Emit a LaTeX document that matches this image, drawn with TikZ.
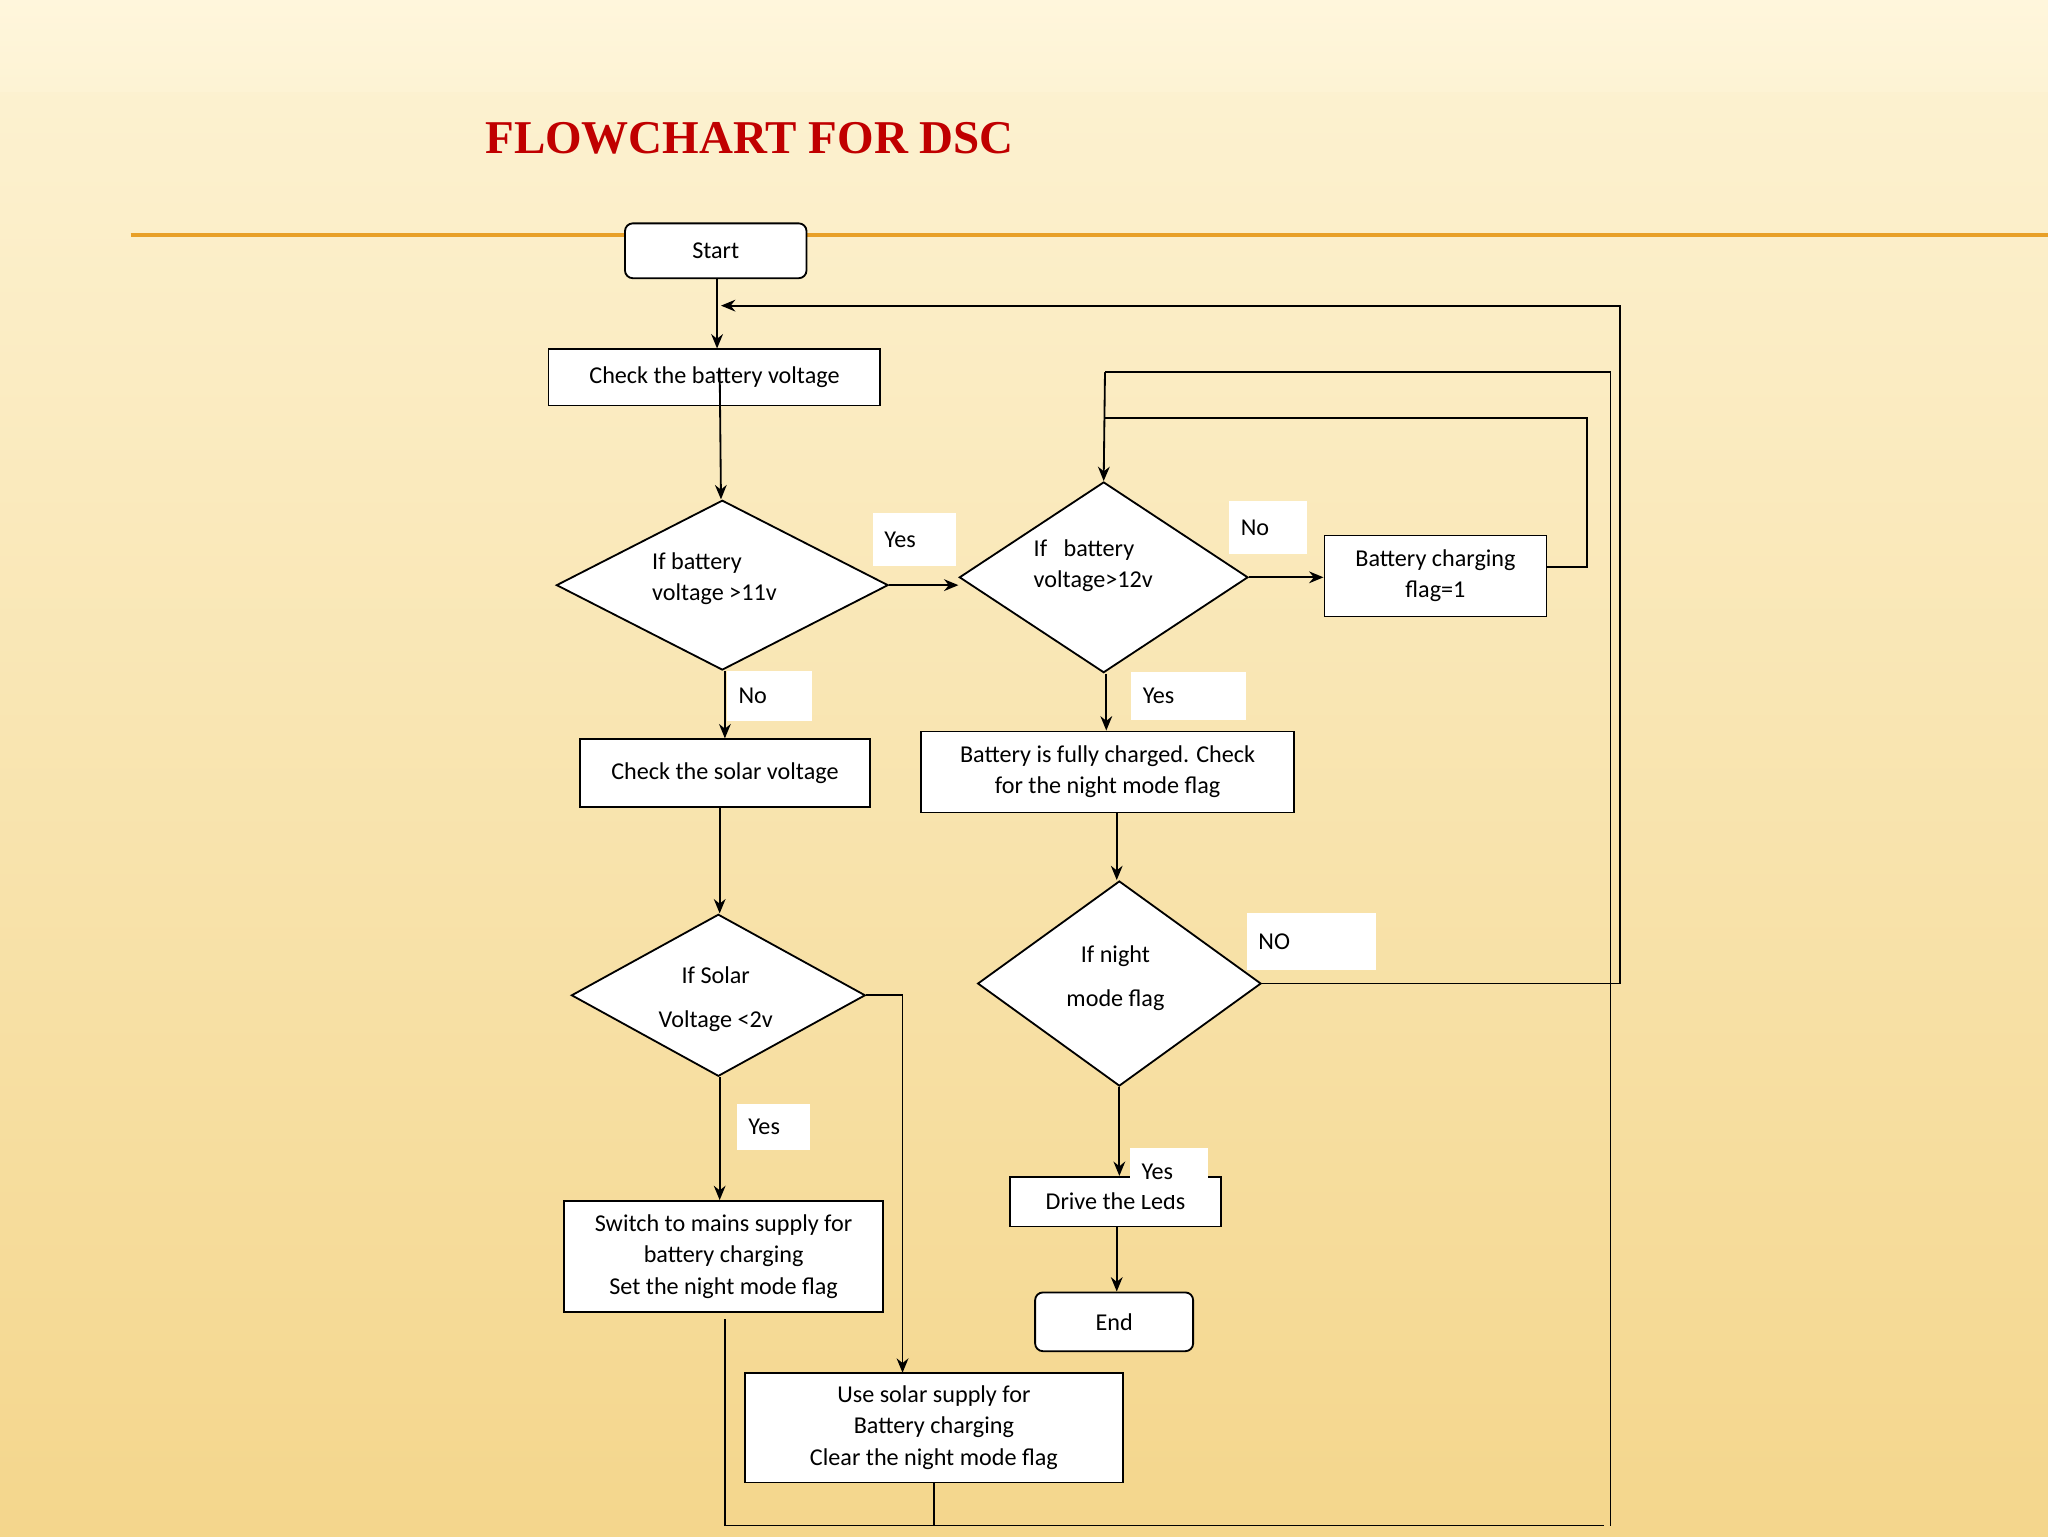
\documentclass[tikz,border=0pt]{standalone}
\usepackage{fontspec}
\setmainfont{Carlito}
\newfontfamily\titlefont{Liberation Serif}
\usetikzlibrary{shapes.geometric,arrows.meta,calc}
\definecolor{bgtop}{RGB}{253,243,212}
\definecolor{bgbot}{RGB}{244,214,140}
\definecolor{bgband}{RGB}{255,246,220}
\definecolor{rule}{RGB}{232,160,40}
\definecolor{titlered}{RGB}{192,0,0}
\begin{document}
\begin{tikzpicture}[x=1pt,y=-1pt,
  box/.style={draw,line width=1.4pt,fill=white,inner sep=0pt,align=center,font=\fontsize{18.5}{24}\selectfont},
  rbox/.style={box,rounded corners=6pt},
  dia/.style={draw,line width=1.4pt,fill=white,diamond,inner sep=0pt},
  txt/.style={align=left,font=\fontsize{18.5}{24}\selectfont,inner sep=0pt},
  lab/.style={fill=white,inner ysep=0pt,inner xsep=9pt,font=\fontsize{18.5}{24}\selectfont,align=left,text width=#1},
  con/.style={line width=1.4pt},
  arr/.style={line width=1.4pt,-{Stealth[length=11pt,width=9pt]}}]
\useasboundingbox (0,0) rectangle (1568,1176);
\shade[top color=bgtop,bottom color=bgbot] (0,0) rectangle (1568,1176);
\shade[top color=bgband,bottom color=bgtop] (0,0) rectangle (1568,70);
\draw[line width=2.5pt,rule] (100,180) -- (1568,180);
\node[font=\titlefont\bfseries\fontsize{36}{40}\selectfont,text=titlered,anchor=west] (title) at (368,106) {FLOWCHART FOR DSC};
% nodes
\node[rbox,minimum width=139,minimum height=42] (start) at (548,192) {Start};
\node[box,minimum width=254,minimum height=43] (chk) at (547,289) {Check the battery voltage};
\node[dia,minimum width=254,minimum height=130] (d1) at (553,448) {};
\node[txt] (d1t) at (547,443) {If battery\\voltage >11v};
\node[dia,minimum width=221,minimum height=146] (d2) at (845,442) {};
\node[txt] (d2t) at (837,433) {If\ \ \ battery\\voltage>12v};
\node[box,minimum width=170,minimum height=62] (flag) at (1099,441) {Battery charging\\flag=1};
\node[box,minimum width=222,minimum height=52] (sol) at (555,592) {Check the solar voltage};
\node[box,minimum width=286,minimum height=62] (full) at (848,591) {Battery is fully charged. Check\\for the night mode flag};
\node[dia,minimum width=225,minimum height=124] (d3) at (550,762) {};
\node[txt,align=center] (d3t) at (548,765) {If Solar\\[10pt]Voltage <2v};
\node[dia,minimum width=217,minimum height=157] (d4) at (857,753) {};
\node[txt,align=center] (d4t) at (854,749) {If night\\[10pt]mode flag};
\node[box,minimum width=244,minimum height=85] (mains) at (554,962) {Switch to mains supply for\\battery charging\\Set the night mode flag};
\node[box,minimum width=161,minimum height=38] (drive) at (854,920) {Drive the Leds};
\node[rbox,minimum width=121,minimum height=45] (end) at (853,1012) {End};
\node[box,minimum width=289,minimum height=84] (use) at (715,1093) {Use solar supply for\\Battery charging\\Clear the night mode flag};
% coordinates
\coordinate (a1) at (549,234);
\coordinate (r1) at (1240,234);
\coordinate (r2) at (1240,753);
\coordinate (t1) at (846,285);
\coordinate (t2) at (1233,285);
\coordinate (t3) at (1233,1168);
\coordinate (b1) at (555,1168);
\coordinate (b0) at (555,1010);
\coordinate (u1) at (715,1168);
\coordinate (f1) at (1215,434);
\coordinate (f2) at (1215,320);
\coordinate (f3) at (846,320);
\coordinate (s1) at (691,762);
\coordinate (s2) at (691,1051);
% connectors
\draw[arr] (start.south -| a1) -- (chk.north -| a1);
\draw[arr] (r2) -- (r1) -- (552,234);
\draw[con] (d4.east) -- (r2);
\draw[arr] (551,283) -- (d1.north -| 552,0);
\draw[arr] (d1.east) -- (d2.west |- d1.east);
\draw[arr] (d2.east) -- (flag.west |- d2.east);
\draw[arr] (d1.south -| 555,0) -- (sol.north -| 555,0);
\draw[arr] (d2.south -| 847,0) -- (full.north -| 847,0);
\draw[arr] (sol.south -| 551,0) -- (d3.north -| 551,0);
\draw[arr] (full.south -| 855,0) -- (d4.north -| 855,0);
\draw[arr] (d3.south -| 551,0) -- (mains.north -| 551,0);
\draw[con] (d3.east) -- (s1);
\draw[arr] (s1) -- (s2);
\draw[arr] (d4.south -| 857,0) -- (drive.north -| 857,0);
\draw[arr] (drive.south -| 855,0) -- (end.north -| 855,0);
\draw[con] (b0) -- (b1) -- (1228,1168);
\draw[con] (use.south) -- (u1);
\draw[con] (t3) -- (t2) -- (t1);
\draw[arr] (t1) -- (d2.north);
\draw[con] (flag.east |- f1) -- (f1) -- (f2) -- (f3);
% labels
\node[lab=46pt,minimum height=40] (l1) at (700,413) {Yes};
\node[lab=42pt,minimum height=41] (l2) at (971,404) {No};
\node[lab=47pt,minimum height=38] (l3) at (589,533) {No};
\node[lab=70pt,minimum height=37] (l4) at (910,533) {Yes};
\node[lab=81pt,minimum height=44] (l5) at (1004,721) {NO};
\node[lab=38pt,minimum height=35] (l6) at (592,863) {Yes};
\node[lab=42pt,minimum height=36] (l7) at (895,897) {Yes};
\end{tikzpicture}
\end{document}
